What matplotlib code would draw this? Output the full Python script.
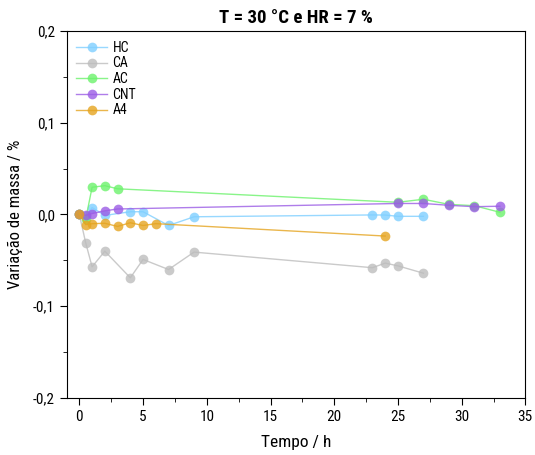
import matplotlib
matplotlib.use("Agg")
import matplotlib.pyplot as plt
from matplotlib.ticker import MultipleLocator, FuncFormatter

plt.rcParams['font.family'] = ['Roboto Condensed', 'Archivo Narrow', 'DejaVu Sans']

hc_t = [0, 0.5, 1, 2, 4, 5, 7, 9, 23, 24, 25, 27]
hc_v = [0, -0.002, 0.0075, -0.001, 0.003, 0.003, -0.012, -0.0025, -0.0005, -0.0006, -0.002, -0.002]

ca_t = [0, 0.5, 1, 2, 4, 5, 7, 9, 23, 24, 25, 27]
ca_v = [0, -0.031, -0.057, -0.040, -0.069, -0.049, -0.060, -0.041, -0.058, -0.053, -0.056, -0.064]

ac_t = [0, 0.5, 1, 2, 3, 25, 27, 29, 31, 33]
ac_v = [0, -0.005, 0.0297, 0.0314, 0.028, 0.0133, 0.0166, 0.011, 0.0096, 0.0024]

cnt_t = [0, 0.5, 1, 2, 3, 25, 27, 29, 31, 33]
cnt_v = [0, -0.0008, 0.001, 0.004, 0.006, 0.012, 0.012, 0.010, 0.0085, 0.009]

a4_t = [0, 0.5, 1, 2, 3, 4, 5, 6, 24]
a4_v = [0.001, -0.011, -0.010, -0.0096, -0.013, -0.009, -0.012, -0.010, -0.0235]

series = [
    ("HC", hc_t, hc_v, "#7fcfff"),
    ("CA", ca_t, ca_v, "#bdbdbd"),
    ("AC", ac_t, ac_v, "#6cf26c"),
    ("CNT", cnt_t, cnt_v, "#9b5de5"),
    ("A4", a4_t, a4_v, "#e5a41f"),
]

fig = plt.figure(figsize=(5.35, 4.55), dpi=100)
ax = fig.add_axes([0.1245, 0.1253, 0.8575, 0.8066])

for name, t, v, c in series:
    ax.plot(t, v, '-', color=c, lw=1.0, alpha=0.8, label=name,
            marker='o', markersize=7, markerfacecolor=c, markeredgecolor=c,
            markeredgewidth=0)

ax.set_xlim(-1, 35)
ax.set_ylim(-0.2, 0.2)
ax.xaxis.set_major_locator(MultipleLocator(5))
ax.xaxis.set_minor_locator(MultipleLocator(2.5))
ax.yaxis.set_major_locator(MultipleLocator(0.1))
ax.yaxis.set_minor_locator(MultipleLocator(0.05))
ax.yaxis.set_major_formatter(FuncFormatter(lambda v, p: ("%.1f" % v).replace('.', ',').replace('-0,0', '0,0')))
ax.tick_params(which='both', direction='out', top=False, right=False, labelsize=11)
ax.tick_params(which='major', length=5)
ax.tick_params(which='minor', length=3)

ax.set_xlabel("Tempo / h", fontsize=12.5, labelpad=8)
ax.set_ylabel("Variação de massa / %", fontsize=12, labelpad=7)
ax.set_title("T = 30 °C e HR = 7 %", fontsize=13.5, fontweight='bold', pad=6)

leg = ax.legend(loc='upper left', frameon=False, fontsize=10, handlelength=2.2,
                labelspacing=0.12, borderaxespad=0.3, handletextpad=0.4)

fig.savefig("out.png", dpi=100)
